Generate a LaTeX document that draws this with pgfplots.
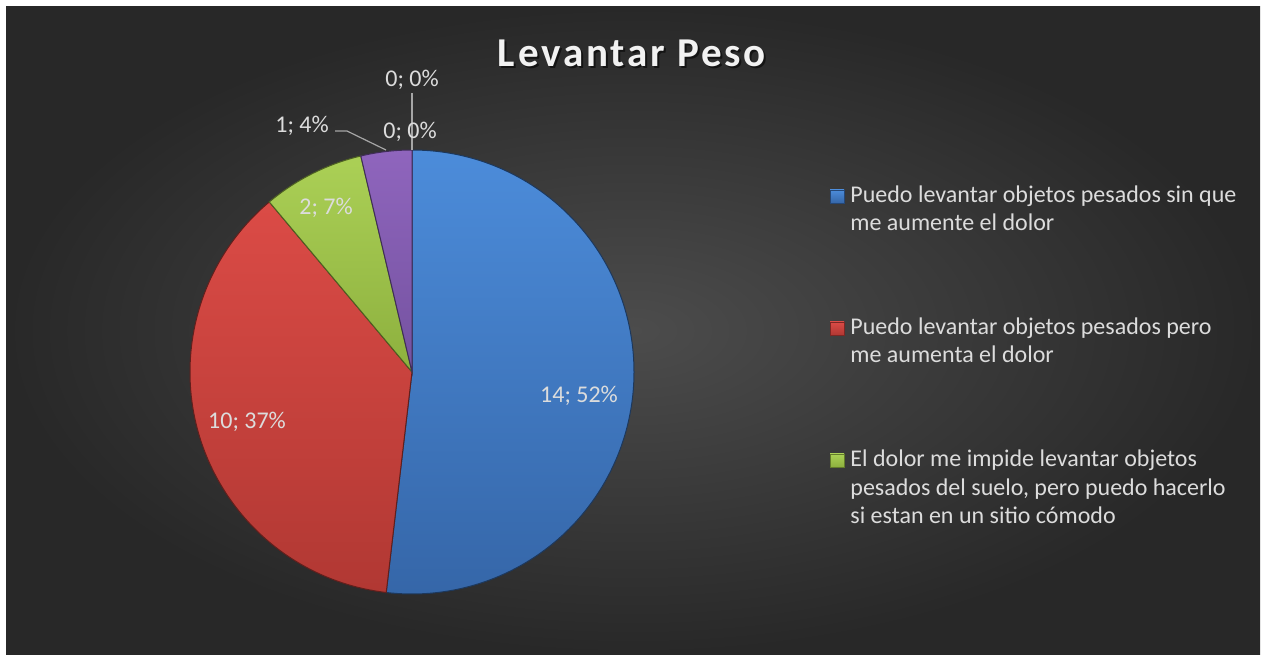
\documentclass[border=0pt]{standalone}
\usepackage{pgfplots}
\pgfplotsset{compat=1.18}
\usepackage{pgfplotstable}
\usepackage{fontspec}
\setmainfont{Carlito}
\newfontfamily\titlefont[LetterSpace=7]{Carlito}

\definecolor{bgin}{HTML}{4C4C4C}
\definecolor{bgout}{HTML}{282828}
\definecolor{txt}{HTML}{DCDCDC}
\definecolor{lead}{HTML}{A6A6A6}
% slice colours, top / bottom of the gradient
\definecolor{s0t}{HTML}{4C8CDA}
\definecolor{s0b}{HTML}{3566A8}
\definecolor{s1t}{HTML}{DB4B46}
\definecolor{s1b}{HTML}{B13833}
\definecolor{s2t}{HTML}{ABD056}
\definecolor{s2b}{HTML}{8DB03E}
\definecolor{s3t}{HTML}{8F65BD}
\definecolor{s3b}{HTML}{7452A0}
\definecolor{s4t}{HTML}{4BACC6}
\definecolor{s4b}{HTML}{3A8DA3}
\definecolor{s5t}{HTML}{F79646}
\definecolor{s5b}{HTML}{D07A30}

\newcommand\lbl{\fontsize{12}{14}\selectfont}
\newcommand\leg{\fontsize{12}{14}\selectfont}
\newcommand\ttl{\titlefont\bfseries\fontsize{20.5}{24}\selectfont}

% value, label x and label baseline (pixels from the top)
\pgfplotstableread{
value lx  lb
14    579 403
10    247 429
2     326 215
1     302 133
0     410 139
0     412 87
}\piedata

\begin{document}
\begin{tikzpicture}
\pgfplotstablegetrowsof{\piedata}
\pgfmathtruncatemacro{\nlast}{\pgfplotsretval-1}
\def\total{0}
\pgfplotsforeachungrouped \i in {0,...,\nlast}{%
  \pgfplotstablegetelem{\i}{value}\of\piedata
  \pgfmathsetmacro{\total}{\total+\pgfplotsretval}}
\begin{axis}[
    width=632pt, height=327pt, scale only axis,
    xmin=0, xmax=1264, ymin=0, ymax=654,
    hide axis, clip=false,
]
% page and chart area
\fill[white] (axis cs:0,0) rectangle (axis cs:1264,654);
\shade[inner color=bgin, outer color=bgout] (axis cs:6,0) rectangle (axis cs:1260,647);

% slices, clockwise from the top
\def\cum{0}
\pgfplotsforeachungrouped \i in {0,...,\nlast}{%
  \pgfplotstablegetelem{\i}{value}\of\piedata \let\v\pgfplotsretval
  \pgfmathsetmacro{\a}{90-360*\cum/\total}
  \pgfmathsetmacro{\cum}{\cum+\v}
  \pgfmathsetmacro{\b}{90-360*\cum/\total}
  \ifdim\v pt>0pt
    \edef\temp{\noexpand\shadedraw[top color=s\i t, bottom color=s\i b, draw=s\i b!55!black, line width=0.5pt]
      (axis cs:412,282) -- ++(\a:111pt) arc[start angle=\a, end angle=\b, radius=111pt] -- cycle;}
    \temp
  \fi
}
% leader lines
\draw[lead, line width=0.6pt] (axis cs:335,523) -- (axis cs:347,523) -- (axis cs:386,504);
\draw[lead, line width=0.6pt] (axis cs:412,561) -- (axis cs:412,504);
% data labels
\pgfplotsforeachungrouped \i in {0,...,\nlast}{%
  \pgfplotstablegetelem{\i}{value}\of\piedata \let\v\pgfplotsretval
  \pgfplotstablegetelem{\i}{lx}\of\piedata \let\lx\pgfplotsretval
  \pgfplotstablegetelem{\i}{lb}\of\piedata \pgfmathsetmacro{\ly}{654-\pgfplotsretval}
  \pgfmathtruncatemacro{\p}{round(100*\v/\total)}
  \pgfmathtruncatemacro{\vi}{\v}
  \edef\temp{\noexpand\node[anchor=base, text=txt, font=\noexpand\lbl, inner sep=0pt]
    at (axis cs:\lx,\ly) {\vi; \p\noexpand\%};}
  \temp
}

% title
\node[anchor=base, text=black, opacity=0.55, font=\ttl, inner sep=0pt]
  at (axis cs:634,585) {Levantar Peso};
\node[anchor=base, text=white!95!black, font=\ttl, inner sep=0pt]
  at (axis cs:632,587) {Levantar Peso};

% legend
\shadedraw[top color=s0t, bottom color=s0b, draw=s0b!70!black, line width=0.3pt] (axis cs:830,451) rectangle (axis cs:844,464);
\node[anchor=base west, text=txt, font=\leg, inner sep=0pt] at (axis cs:850,451) {Puedo levantar objetos pesados sin que};
\node[anchor=base west, text=txt, font=\leg, inner sep=0pt] at (axis cs:850,423) {me aumente el dolor};
\shadedraw[top color=s1t, bottom color=s1b, draw=s1b!70!black, line width=0.3pt] (axis cs:830,319) rectangle (axis cs:844,332);
\node[anchor=base west, text=txt, font=\leg, inner sep=0pt] at (axis cs:850,319) {Puedo levantar objetos pesados pero};
\node[anchor=base west, text=txt, font=\leg, inner sep=0pt] at (axis cs:850,291) {me aumenta el dolor};
\shadedraw[top color=s2t, bottom color=s2b, draw=s2b!70!black, line width=0.3pt] (axis cs:830,187) rectangle (axis cs:844,200);
\node[anchor=base west, text=txt, font=\leg, inner sep=0pt] at (axis cs:850,187) {El dolor me impide levantar objetos};
\node[anchor=base west, text=txt, font=\leg, inner sep=0pt] at (axis cs:850,159) {pesados del suelo, pero puedo hacerlo};
\node[anchor=base west, text=txt, font=\leg, inner sep=0pt] at (axis cs:850,131) {si estan en un sitio cómodo};
\end{axis}
\end{tikzpicture}
\end{document}
